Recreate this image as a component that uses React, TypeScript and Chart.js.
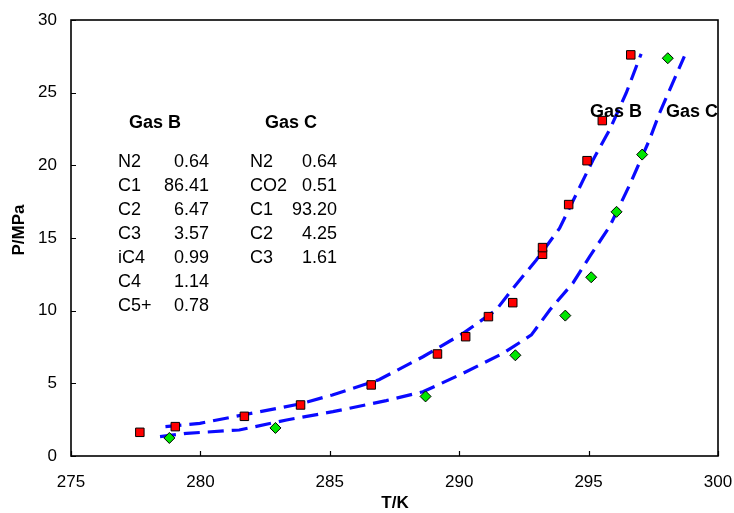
import React, { useEffect, useRef } from "react";
import { Chart, registerables } from "chart.js";

Chart.register(...registerables);

// Measured points (Gas B, red squares)
const gasBTemp = [277.66, 279.03, 281.7, 283.87, 286.6, 289.16, 290.25, 291.13, 292.07, 293.22, 293.22, 294.23, 294.94, 295.53, 296.63];
const gasBPress = [1.63, 2.02, 2.73, 3.51, 4.89, 7.02, 8.21, 9.59, 10.55, 13.88, 14.34, 17.3, 20.32, 23.08, 27.6];

// Measured points (Gas C, green diamonds)
const gasCTemp = [278.8, 282.9, 288.7, 292.17, 294.1, 295.1, 296.08, 297.07, 298.06];
const gasCPress = [1.24, 1.93, 4.1, 6.93, 9.66, 12.3, 16.8, 20.74, 27.37];

// Model curves (dashed)
const modelBTemp = [278.65, 279.98, 281.78, 283.84, 285.1, 286.9, 288.6, 290.15, 291.43, 292.08, 292.98, 293.88, 294.3, 295.17, 295.81, 296.45, 297.03];
const modelBPress = [2.02, 2.25, 2.87, 3.58, 4.2, 5.25, 6.83, 8.44, 10.05, 11.54, 13.49, 15.67, 17.2, 20.37, 22.44, 24.96, 27.67];
const modelCTemp = [278.44, 279.47, 281.5, 283.33, 285.12, 287.18, 288.6, 290.15, 291.7, 292.79, 293.5, 294.39, 295.04, 295.81, 296.6, 297.35, 297.74, 298.7];
const modelCPress = [1.33, 1.56, 1.79, 2.48, 3.05, 3.81, 4.42, 5.69, 7.07, 8.33, 10.05, 11.89, 13.72, 15.78, 18.7, 21.75, 23.59, 27.5];

const xTicks = [275, 280, 285, 290, 295, 300];
const yTicks = [0, 5, 10, 15, 20, 25, 30];

const gasBNames = ["N2", "C1", "C2", "C3", "iC4", "C4", "C5+"];
const gasBValues = ["0.64", "86.41", "6.47", "3.57", "0.99", "1.14", "0.78"];
const gasCNames = ["N2", "CO2", "C1", "C2", "C3"];
const gasCValues = ["0.64", "0.51", "93.20", "4.25", "1.61"];

const FONT = "'Liberation Sans', Arial, sans-serif";

const toXY = (xs: number[], ys: number[]) => xs.map((x, i) => ({ x, y: ys[i] }));

const overlay = {
  id: "overlay",
  afterDraw(chart: any) {
    const { ctx, chartArea: a, scales } = chart;
    ctx.save();
    ctx.strokeStyle = "#000";
    ctx.lineWidth = 1.6;
    ctx.strokeRect(a.left, a.top, a.right - a.left, a.bottom - a.top);
    ctx.beginPath();
    xTicks.forEach((v) => {
      const x = Math.round(scales.x.getPixelForValue(v)) + 0.5;
      ctx.moveTo(x, a.bottom);
      ctx.lineTo(x, a.bottom - 5);
    });
    yTicks.forEach((v) => {
      const y = Math.round(scales.y.getPixelForValue(v)) + 0.5;
      ctx.moveTo(a.left, y);
      ctx.lineTo(a.left + 5, y);
    });
    ctx.lineWidth = 1.2;
    ctx.stroke();

    ctx.fillStyle = "#000";
    ctx.textBaseline = "middle";

    // Axis titles
    ctx.font = `bold 17px ${FONT}`;
    ctx.textAlign = "center";
    ctx.fillText("T/K", 395, 503);
    ctx.save();
    ctx.translate(19, 230);
    ctx.rotate(-Math.PI / 2);
    ctx.fillText("P/MPa", 0, 0);
    ctx.restore();

    // Headers
    ctx.font = `bold 18px ${FONT}`;
    ctx.textAlign = "left";
    ctx.fillText("Gas B", 129, 123);
    ctx.fillText("Gas C", 265, 123);

    // Curve labels
    ctx.fillText("Gas B", 590, 112);
    ctx.fillText("Gas C", 666, 112);

    // Composition tables
    ctx.font = `18px ${FONT}`;
    gasBNames.forEach((n, i) => {
      const y = 162 + i * 24;
      ctx.textAlign = "left";
      ctx.fillText(n, 118, y);
      ctx.textAlign = "right";
      ctx.fillText(gasBValues[i], 209, y);
    });
    gasCNames.forEach((n, i) => {
      const y = 162 + i * 24;
      ctx.textAlign = "left";
      ctx.fillText(n, 250, y);
      ctx.textAlign = "right";
      ctx.fillText(gasCValues[i], 337, y);
    });
    ctx.restore();
  },
};

export default function App() {
  const ref = useRef<HTMLCanvasElement | null>(null);

  useEffect(() => {
    if (!ref.current) return;
    const tickFont = { family: FONT, size: 17 };
    const chart = new Chart(ref.current, {
      type: "scatter",
      data: {
        datasets: [
          {
            label: "Gas B data",
            data: toXY(gasBTemp, gasBPress),
            pointStyle: "rect",
            pointRadius: 6,
            backgroundColor: "#ff0000",
            borderColor: "#000",
            borderWidth: 1,
            showLine: false,
          },
          {
            label: "Gas C data",
            data: toXY(gasCTemp, gasCPress),
            pointStyle: "rectRot",
            pointRadius: 5.5,
            backgroundColor: "#00e600",
            borderColor: "#000",
            borderWidth: 1,
            showLine: false,
          },
          {
            label: "Gas B model",
            data: toXY(modelBTemp, modelBPress),
            showLine: true,
            pointRadius: 0,
            borderColor: "#0a0aff",
            borderWidth: 3.2,
            borderDash: [16, 8],
            tension: 0,
            fill: false,
          },
          {
            label: "Gas C model",
            data: toXY(modelCTemp, modelCPress),
            showLine: true,
            pointRadius: 0,
            borderColor: "#0a0aff",
            borderWidth: 3.2,
            borderDash: [16, 8],
            tension: 0,
            fill: false,
          },
        ],
      },
      options: {
        responsive: false,
        animation: false,
        devicePixelRatio: 1,
        layout: { padding: { top: 20, right: 16, left: 0, bottom: 0 } },
        plugins: { legend: { display: false }, tooltip: { enabled: false } },
        scales: {
          x: {
            type: "linear",
            min: 275,
            max: 300,
            afterBuildTicks: (s: any) => {
              s.ticks = xTicks.map((v) => ({ value: v }));
            },
            ticks: { padding: 16, color: "#000", font: tickFont },
            grid: { display: false, drawTicks: false },
            border: { display: false },
            afterFit: (s: any) => {
              s.height = 57;
              s.paddingLeft = 0;
              s.paddingRight = 0;
            },
          },
          y: {
            type: "linear",
            min: 0,
            max: 30,
            afterBuildTicks: (s: any) => {
              s.ticks = yTicks.map((v) => ({ value: v }));
            },
            ticks: { padding: 14, color: "#000", font: tickFont },
            grid: { display: false, drawTicks: false },
            border: { display: false },
            afterFit: (s: any) => {
              s.width = 71;
              s.paddingTop = 0;
              s.paddingBottom = 0;
            },
          },
        },
      },
      plugins: [overlay],
    });
    return () => chart.destroy();
  }, []);

  return (
    <div style={{ position: "absolute", left: 0, top: 0, width: 734, height: 513, background: "#fff" }}>
      <canvas ref={ref} width={734} height={513} />
    </div>
  );
}
